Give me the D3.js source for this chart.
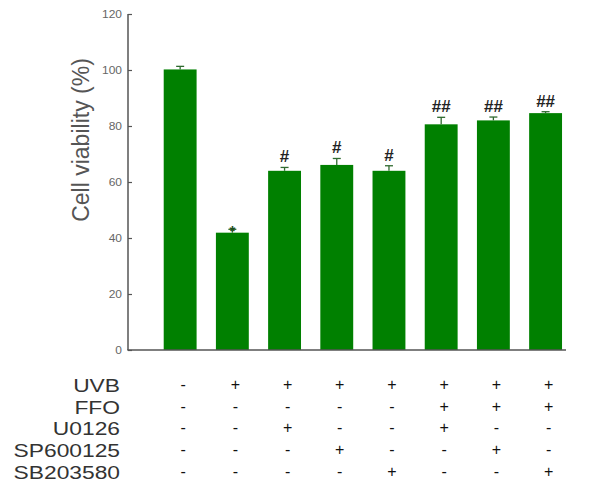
<!DOCTYPE html>
<html><head><meta charset="utf-8">
<script src="https://cdn.jsdelivr.net/npm/d3@7"></script>
<style>body{margin:0;background:#fff}svg{display:block}</style>
</head><body>
<svg id="c" width="590" height="489"></svg>
<script>
const groups = ["G1","G2","G3","G4","G5","G6","G7","G8"];
const values = [100.2, 41.9, 64.0, 66.1, 64.0, 80.6, 82.0, 84.6];
const errors = [1.1, 1.2, 1.2, 2.3, 1.8, 2.5, 1.2, 0.5];
const marks = ["", "*", "#", "#", "#", "##", "##", "##"];
const yTicks = [0, 20, 40, 60, 80, 100, 120];
const rowLabels = ["UVB", "FFO", "U0126", "SP600125", "SB203580"];
const rowUVB      = ["-","+","+","+","+","+","+","+"];
const rowFFO      = ["-","-","-","-","-","+","+","+"];
const rowU0126    = ["-","-","+","-","-","+","-","-"];
const rowSP600125 = ["-","-","-","+","-","-","+","-"];
const rowSB203580 = ["-","-","-","-","+","-","-","+"];
const rows = [rowUVB, rowFFO, rowU0126, rowSP600125, rowSB203580];
const yLabel = "Cell viability  (%)";

const svg = d3.select("#c");
const green = "#008000";
const x = d3.scaleBand().domain(groups).range([128, 566]).paddingInner(0.37).paddingOuter(0.38).align(0.9);
const y = d3.scaleLinear().domain([0, 120]).range([350, 14]);

// bars
svg.append("g").selectAll("rect").data(values).join("rect")
  .attr("x", (d,i) => x(groups[i]))
  .attr("y", d => y(d))
  .attr("width", x.bandwidth())
  .attr("height", d => y(0) - y(d))
  .attr("fill", green);

// error bars
const eg = svg.append("g").attr("stroke", "#2f6a2f").attr("stroke-width", 1.3);
values.forEach((v,i) => {
  const cx = x(groups[i]) + x.bandwidth()/2;
  eg.append("line").attr("x1", cx).attr("x2", cx).attr("y1", y(v)).attr("y2", y(v+errors[i]));
  eg.append("line").attr("x1", cx-4).attr("x2", cx+4).attr("y1", y(v+errors[i])).attr("y2", y(v+errors[i]));
});

// significance marks
svg.append("g").selectAll("text").data(marks).join("text")
  .attr("x", (d,i) => x(groups[i]) + x.bandwidth()/2)
  .attr("y", (d,i) => y(values[i] + errors[i]) + (d === "*" ? 7 : -5))
  .attr("text-anchor", "middle")
  .attr("font-family", "Liberation Sans, Arial, sans-serif")
  .attr("font-size", d => d === "*" ? 15 : 17)
  .attr("font-weight", "bold")
  .attr("fill", d => d === "*" ? "#1d4f1d" : "#222")
  .text(d => d);

// axes
const yAxis = d3.axisRight(y).tickValues(yTicks).tickSize(4).tickFormat(d3.format("d"));
const ag = svg.append("g").attr("transform", "translate(128,0)").call(yAxis);
ag.select(".domain").remove();
ag.selectAll(".tick line").attr("stroke", "#555").attr("stroke-width", 1.2);
ag.selectAll(".tick text").remove();
svg.append("g").selectAll("text").data(yTicks).join("text")
  .attr("transform", d => `translate(122,${y(d)+4}) scale(1.2,1)`)
  .attr("text-anchor", "end")
  .attr("font-family", "Liberation Sans, Arial, sans-serif")
  .attr("font-size", 10)
  .attr("fill", "#666")
  .text(d => d);
svg.append("line").attr("x1", 128).attr("x2", 128).attr("y1", y(120)).attr("y2", y(0))
  .attr("stroke", "#555").attr("stroke-width", 1.5);
svg.append("line").attr("x1", 127.3).attr("x2", 566).attr("y1", y(0)).attr("y2", y(0))
  .attr("stroke", "#555").attr("stroke-width", 1.5);

// y label
svg.append("text")
  .attr("transform", "translate(89,140) rotate(-90)")
  .attr("text-anchor", "middle")
  .attr("font-family", "Liberation Sans, Arial, sans-serif")
  .attr("font-size", 23)
  .attr("fill", "#555")
  .text(yLabel);

// treatment table
const rowY = [385, 407, 428, 450, 472];
const tg = svg.append("g").attr("font-family", "Liberation Sans, Arial, sans-serif");
rowLabels.forEach((lab, r) => {
  tg.append("text")
    .attr("transform", `translate(120,${rowY[r]+7}) scale(1.2,1)`)
    .attr("text-anchor", "end")
    .attr("font-size", 19)
    .attr("fill", "#333")
    .text(lab);
  tg.selectAll(null).data(rows[r]).join("text")
    .attr("x", (d,i) => x(groups[i]) + x.bandwidth()/2 + 3)
    .attr("y", rowY[r] + 5)
    .attr("text-anchor", "middle")
    .attr("font-size", 16)
    .attr("fill", "#111")
    .text(d => d);
});
</script>
</body></html>
